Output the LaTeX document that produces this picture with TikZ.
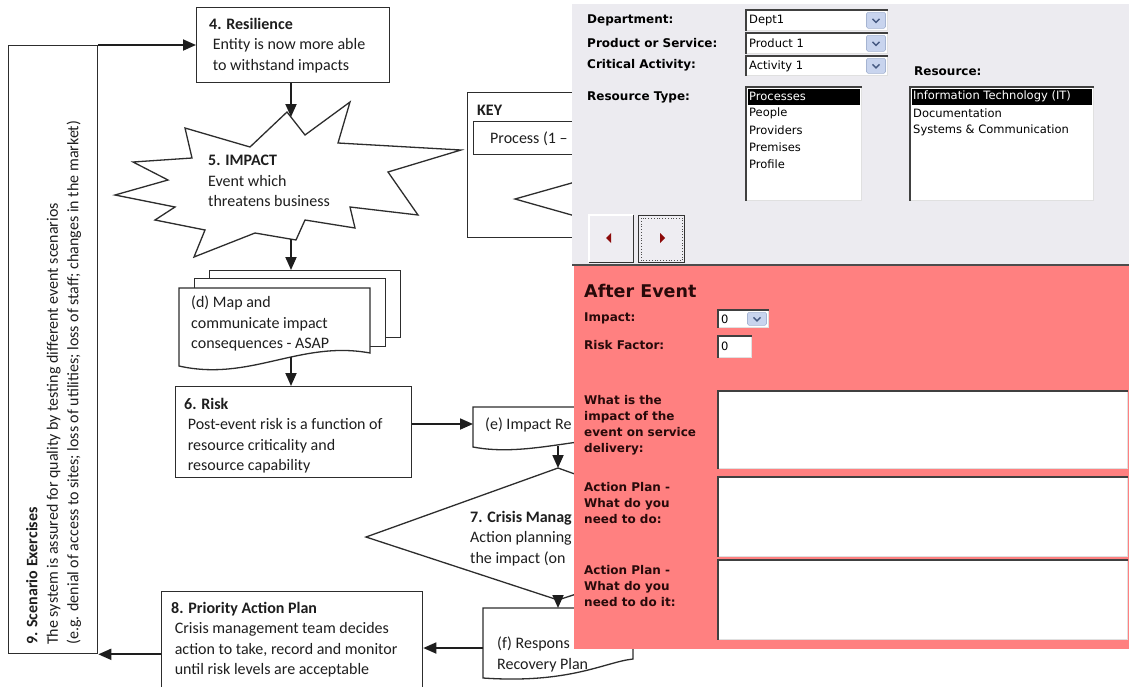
\documentclass[tikz,border=0pt]{standalone}
\usepackage{fontspec}
\setmainfont{Carlito}
\newfontfamily\formfont{DejaVu Sans}
\usetikzlibrary{arrows.meta}
\definecolor{lineclr}{RGB}{45,45,45}
\definecolor{txtclr}{RGB}{30,30,30}
\definecolor{panelgray}{RGB}{236,235,240}
\definecolor{formpink}{RGB}{255,128,128}
\definecolor{ddblue}{RGB}{200,212,238}
\definecolor{ddborder}{RGB}{165,180,210}
\definecolor{chevclr}{RGB}{70,90,130}
\definecolor{arrowred}{RGB}{140,10,10}
\definecolor{pinktxt}{RGB}{40,10,10}
\definecolor{btnface}{RGB}{238,237,242}
\tikzset{
  fc/.style={font=\fontsize{16}{20.5}\selectfont, text=txtclr, inner sep=0pt, align=left},
  box/.style={draw=lineclr, line width=1.3pt, fill=white, inner sep=0pt},
  arr/.style={draw=txtclr, line width=1.8pt, -{Triangle[length=13pt,width=11pt]}},
  lbl/.style={font=\formfont\bfseries\fontsize{12}{16}\selectfont, inner sep=0pt, align=left, text=black},
  item/.style={font=\formfont\fontsize{11.5}{17}\selectfont, inner sep=0pt, text=black},
  field/.style={fill=white, draw=black!12, line width=0.8pt, inner sep=0pt},
  dk/.style={draw=black!75, line width=1.4pt},
  ddbtn/.style={fill=ddblue, draw=ddborder, line width=0.6pt, rounded corners=1.5pt, inner sep=0pt},
  chev/.style={draw=chevclr, line width=1.4pt},
  btn/.style={fill=btnface, inner sep=0pt},
}
\newcommand\mkcombo[6]{%
  \node[field, anchor=north west, minimum width=#4, minimum height=#5] (#1) at (#2,#3) {};
  \draw[dk] (#1.south west) -- (#1.north west) -- (#1.north east);
  \node[item, anchor=west] (#1t) at ([xshift=3pt]#1.west) {#6};
  \node[ddbtn, anchor=north east, minimum width=19, minimum height=#5-4] (#1b) at ([xshift=-2pt,yshift=-2pt]#1.north east) {};
  \draw[chev] ([xshift=-3.5pt,yshift=1.5pt]#1b.center) -- ([yshift=-2pt]#1b.center) -- ([xshift=3.5pt,yshift=1.5pt]#1b.center);
}
\newcommand\mkfield[5]{%
  \node[field, anchor=north west, minimum width=#4, minimum height=#5] (#1) at (#2,#3) {};
  \draw[dk] (#1.south west) -- (#1.north west) -- (#1.north east);
}
\begin{document}
\begin{tikzpicture}[x=1pt,y=-1pt]
\useasboundingbox (0,0) rectangle (1129,686);
\fill[white] (0,0) rectangle (1129,686);

% ---------- flowchart ----------
\node[box, anchor=north west, minimum width=89, minimum height=608] (b9) at (8,45) {};
\node[fc, rotate=90, anchor=north west] (t9) at (26,645) {\textbf{9. Scenario Exercises}\\The system is assured for quality by testing different event scenarios\\(e.g. denial of access to sites; loss of utilities; loss of staff; changes in the market)};

\node[box, anchor=north west, minimum width=193, minimum height=75] (b4) at (196,7) {};
\node[fc, anchor=north west] (t4) at (209,18) {\textbf{4. Resilience}\\\ Entity is now more able\\\ to withstand impacts};

% star
\draw[box] (185,128) -- (250,147) -- (287,112) -- (305,135) -- (350,102) -- (338,143) -- (461,150) -- (388,172) -- (418,215) -- (350,207) -- (355,228) -- (305,220) -- (296,240) -- (255,233) -- (194,257) -- (205,230) -- (155,220) -- (175,207) -- (115,195) -- (168,180) -- (133,162) -- (192,158) -- cycle;
\coordinate (startop) at (291,117);
\coordinate (starbot) at (291,239);
\node[fc, anchor=north west] (t5) at (208,155) {\textbf{5. IMPACT}\\Event which\\threatens business};

% document stack (d)
\node[box, anchor=north west, minimum width=191, minimum height=67] (dback) at (209,270) {};
\node[box, anchor=north west, minimum width=191, minimum height=68] (dmid) at (194,278) {};
\draw[box] (179,288) -- (370,288) -- (370,353) .. controls (300,340) and (250,382) .. (179,366) -- cycle;
\coordinate (dbot) at (291,357);
\node[fc, anchor=north west] (td) at (191,296) {(d) Map and\\communicate impact\\consequences - ASAP};

% 6 Risk
\node[box, anchor=north west, minimum width=236, minimum height=91] (b6) at (175,386) {};
\node[fc, anchor=north west] (t6) at (184,398) {\textbf{6. Risk}\\\ Post-event risk is a function of\\\ resource criticality and\\\ resource capability};

% (e)
\draw[box] (473,407) -- (643,407) -- (643,440) .. controls (590,432) and (530,458) .. (473,447) -- cycle;
\coordinate (eleft) at (473,424);
\coordinate (ebot) at (558,446);
\node[fc, anchor=west] (te) at (485,425) {(e) Impact Re};

% 7 diamond
\draw[box] (558,468) -- (366,537) -- (558,600) -- (750,537) -- cycle;
\coordinate (dtop) at (558,468);
\coordinate (dbottom) at (558,600);
\node[fc, anchor=north west] (t7) at (470,511) {\textbf{7. Crisis Manag}\\Action planning\\the impact (on};

% (f)
\draw[box] (483,608) -- (633,608) -- (633,659) .. controls (605,662) and (570,684) .. (483,678) -- cycle;
\coordinate (ftop) at (558,608);
\coordinate (fleft) at (483,648);
\node[fc, anchor=north west] (tf) at (497,637) {(f) Respons\\Recovery Plan};

% 8
\node[box, anchor=north west, minimum width=261, minimum height=99] (b8) at (161,591) {};
\node[fc, anchor=north west] (t8) at (171,602) {\textbf{8. Priority Action Plan}\\\ Crisis management team decides\\\ action to take, record and monitor\\\ until risk levels are acceptable};

% KEY
\node[box, anchor=north west, minimum width=160, minimum height=145] (key) at (467,92) {};
\node[fc, anchor=west] (tkey) at (477,110) {\textbf{KEY}};
\node[box, anchor=north west, minimum width=160, minimum height=33] (keyproc) at (473,121) {};
\node[fc, anchor=west] (tkeyproc) at (490,139) {Process (1 –};
\draw[box] (515,199) -- (600,175) -- (685,199) -- (600,223) -- cycle;

% connectors
\draw[arr] (b9.north east) -- (b9.north east -| b4.west);
\draw[arr] (b4.south -| startop) -- (startop);
\draw[arr] (starbot) -- (starbot |- dback.north);
\draw[arr] (dbot) -- (dbot |- b6.north);
\draw[arr] (b6.east |- eleft) -- (eleft);
\draw[arr] (ebot) -- (dtop);
\draw[arr] (dbottom) -- (ftop);
\draw[arr] (fleft) -- (fleft -| b8.east);
\draw[arr] (b9.south east -| b8.west) -- (b9.south east);

% ---------- form ----------
\fill[panelgray] (572,4) rectangle (1129,265);
\node[lbl, anchor=west] (ldept) at (587,20) {Department:};
\node[lbl, anchor=west] (lprod) at (587,43) {Product or Service:};
\node[lbl, anchor=west] (lact) at (587,65) {Critical Activity:};
\node[lbl, anchor=west] (ltype) at (587,97) {Resource Type:};
\node[lbl, anchor=west] (lres) at (914,71) {Resource:};
\mkcombo{cdept}{746}{10}{141}{20}{Dept1}
\mkcombo{cprod}{746}{33}{141}{20}{Product 1}
\mkcombo{cact}{746}{56}{141}{19}{Activity 1}

\mkfield{lbtype}{746}{87}{115}{113}
\fill[black] (747.5,88.5) rectangle (860,104.5);
\node[item, anchor=west, text=white] (i1) at (749,96) {Processes};
\node[item, anchor=west] (i2) at (749,113) {People};
\node[item, anchor=west] (i3) at (749,130) {Providers};
\node[item, anchor=west] (i4) at (749,147) {Premises};
\node[item, anchor=west] (i5) at (749,164) {Profile};

\mkfield{lbres}{910}{87}{183}{113}
\fill[black] (911.5,88.5) rectangle (1092,104.5);
\node[item, anchor=west, text=white] (r1) at (913,96) {Information Technology (IT)};
\node[item, anchor=west] (r2) at (913,113) {Documentation};
\node[item, anchor=west] (r3) at (913,130) {Systems \& Communication};

% buttons
\node[btn, anchor=north west, minimum width=44, minimum height=47] (bprev) at (589,215) {};
\draw[white, line width=1.2pt] (bprev.south west) -- (bprev.north west) -- (bprev.north east);
\draw[black!80, line width=1.6pt] (bprev.south west) -- (bprev.south east) -- (bprev.north east);
\fill[arrowred] (606,238) -- (611,233) -- (611,243) -- cycle;
\node[btn, anchor=north west, minimum width=46, minimum height=47, draw=black!80, line width=1.4pt] (bnext) at (638,215) {};
\draw[black!70, line width=0.8pt, dotted] ([xshift=3pt,yshift=-3pt]bnext.north west) rectangle ([xshift=-3pt,yshift=3pt]bnext.south east);
\fill[arrowred] (665,238) -- (660,233) -- (660,243) -- cycle;

% pink section
\fill[formpink] (574,265) rectangle (1129,649);
\draw[black!70, line width=1.5pt] (572,265) -- (1129,265);
\node[lbl, anchor=west, text=pinktxt, font=\formfont\bfseries\fontsize{17.5}{20}\selectfont] (lafter) at (584,291) {After Event};
\node[lbl, anchor=west, text=pinktxt] (limp) at (584,318) {Impact:};
\mkcombo{cimp}{718}{310}{50}{17}{0}
\node[lbl, anchor=west, text=pinktxt] (lrisk) at (584,345) {Risk Factor:};
\mkfield{frisk}{718}{336}{33}{21}
\node[item, anchor=west] (frisk0) at (721,346) {0};
\node[lbl, anchor=north west, text=pinktxt] (lq1) at (584,395) {What is the\\impact of the\\event on service\\delivery:};
\mkfield{fq1}{718}{391}{409}{77}
\node[lbl, anchor=north west, text=pinktxt] (lq2) at (584,482) {Action Plan -\\What do you\\need to do:};
\mkfield{fq2}{718}{477}{409}{79}
\node[lbl, anchor=north west, text=pinktxt] (lq3) at (584,565) {Action Plan -\\What do you\\need to do it:};
\mkfield{fq3}{718}{560}{409}{79}
\end{tikzpicture}
\end{document}
